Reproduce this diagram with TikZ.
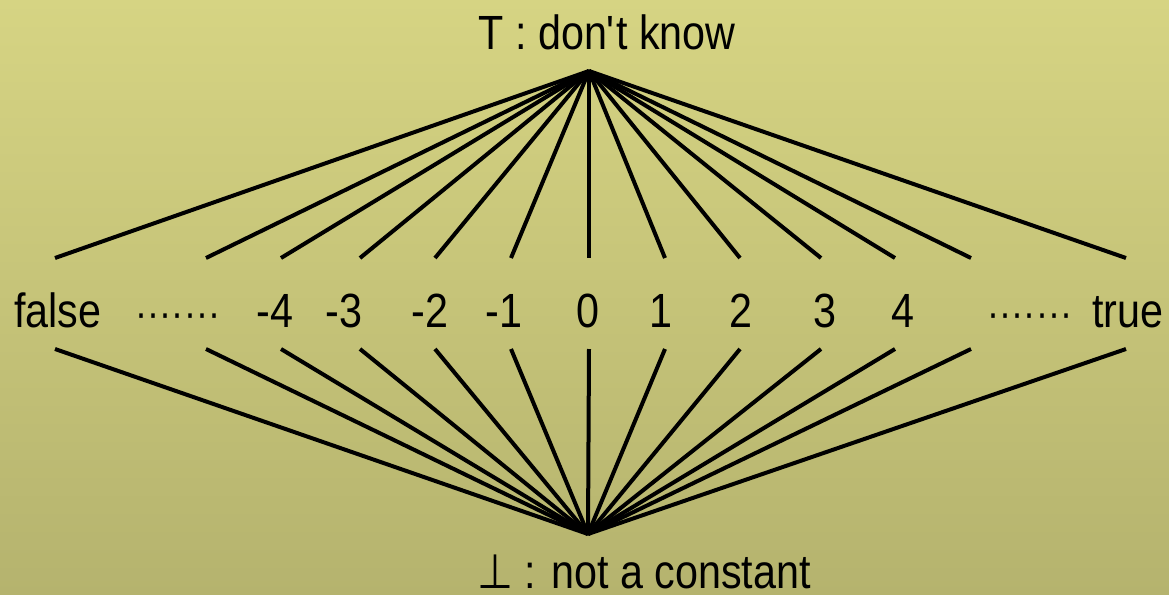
\documentclass[tikz,border=0pt]{standalone}
\usepackage{fontspec}
\setmainfont[FakeStretch=0.86]{Liberation Sans}
\newfontfamily\symbolfont[FakeStretch=0.86]{DejaVu Sans}
\definecolor{bgtop}{RGB}{214,212,131}
\definecolor{bgbot}{RGB}{181,179,110}

\begin{document}
\begin{tikzpicture}[
  x=0.5pt, y=-0.5pt,
  elem/.style={anchor=base, inner sep=0pt, font=\fontsize{24}{28}\selectfont},
  dots/.style={anchor=base, inner sep=0pt, font=\fontsize{21}{26}\selectfont},
  edge/.style={line width=2pt}
]
\shade[top color=bgtop, bottom color=bgbot] (0,0) rectangle (1169,595);
\useasboundingbox (0,0) rectangle (1169,595);

\node[elem] (topval) at (607,49) {T : don\textquotesingle t know};
\node[elem] (botval) at (644,588) {{\symbolfont ⊥} : not a constant};
\coordinate (topapex) at (589,71);
\coordinate (botapex) at (588,534);

% lattice elements
\foreach \n/\lx/\t in {false/58/false, m4/275/-4, m3/344/-3, m2/430/-2, m1/504/-1,
    z0/588/0, p1/661/1, p2/741/2, p3/825/3, p4/903/4, true/1128/true}
  \node[elem] (\n) at (\lx,327) {\t};
\node[dots] (ldots) at (178,327) {·······};
\node[dots] (rdots) at (1030,327) {·······};

% edges to top and bottom
\foreach \n/\ex in {false/55, ldots/206, m4/281, m3/360, m2/435, m1/511,
    z0/589, p1/665, p2/740, p3/821, p4/895, rdots/971, true/1126} {
  \coordinate (\n-up) at (\ex,258);
  \coordinate (\n-lo) at (\ex,349);
  \draw[edge] (topapex) -- (\n-up);
  \draw[edge] (\n-lo) -- (botapex);
}
\end{tikzpicture}
\end{document}
